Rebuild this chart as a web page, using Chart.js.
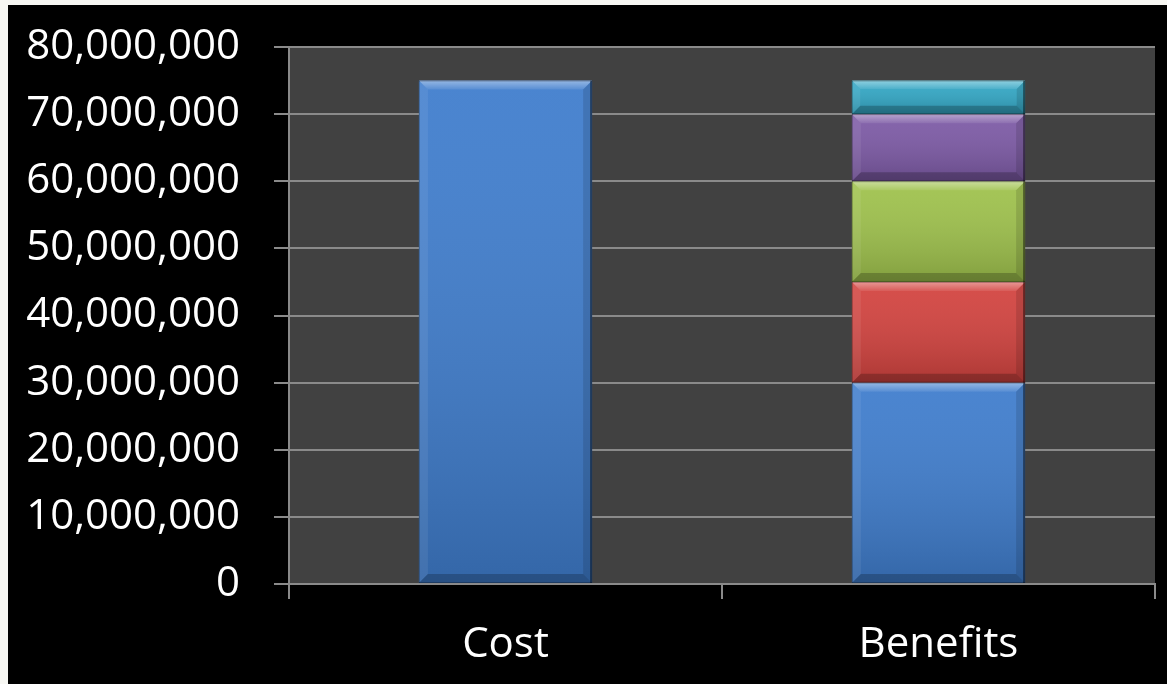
<!DOCTYPE html>
<html>
<head>
<meta charset="utf-8">
<script src="https://cdn.jsdelivr.net/npm/chart.js@4.4.1/dist/chart.umd.min.js"></script>
<style>
  html, body { margin: 0; padding: 0; background: #f7f7f3; }
  #frame { position: absolute; left: 8px; top: 5px; width: 1159px; height: 679px; background: #000; }
  canvas { display: block; }
</style>
</head>
<body>
<div id="frame"><canvas id="c" width="1159" height="679"></canvas></div>
<script>
// Categories along the x axis
const categories = ['Cost', 'Benefits'];

// Stacked series: the first one carries the full cost and the base benefit block
const series1 = [75000000, 30000000];
const series2 = [0, 15000000];
const series3 = [0, 15000000];
const series4 = [0, 10000000];
const series5 = [0, 5000000];

// Value axis range and step
const yMin = 0;
const yMax = 80000000;
const yStep = 10000000;

const seriesColors = ['#3f7dcd', '#d3433f', '#9fc24c', '#7d5aa6', '#33a8c6'];
const allSeries = [series1, series2, series3, series4, series5];

const FONT = '"Open Sans", "Noto Sans", sans-serif';
const GRID = '#8a8a8a';

// Dark plot background inside the chart area
const plotBackground = {
  id: 'plotBackground',
  beforeDraw(chart) {
    const { ctx, chartArea: a } = chart;
    ctx.save();
    ctx.fillStyle = '#414141';
    ctx.fillRect(a.left, a.top, a.right - a.left, a.bottom - a.top);
    ctx.restore();
  }
};

// Bevelled shading over each drawn bar segment
const bevel = {
  id: 'bevel',
  afterDatasetsDraw(chart) {
    const ctx = chart.ctx;
    chart.data.datasets.forEach((ds, i) => {
      const meta = chart.getDatasetMeta(i);
      meta.data.forEach(el => {
        const h = Math.abs(el.base - el.y);
        if (!h) return;
        const l = el.x - el.width / 2, r = el.x + el.width / 2;
        const t = Math.min(el.y, el.base), b = Math.max(el.y, el.base);
        const e = Math.min(9, h / 4);
        ctx.save();
        // overall light-to-dark wash
        const g = ctx.createLinearGradient(0, t, 0, b);
        g.addColorStop(0, 'rgba(255,255,255,0.06)');
        g.addColorStop(1, 'rgba(0,0,0,0.18)');
        ctx.fillStyle = g;
        ctx.fillRect(l, t, r - l, b - t);
        const poly = (pts, fill) => {
          ctx.beginPath();
          ctx.moveTo(pts[0][0], pts[0][1]);
          for (let k = 1; k < pts.length; k++) ctx.lineTo(pts[k][0], pts[k][1]);
          ctx.closePath();
          ctx.fillStyle = fill;
          ctx.fill();
        };
        // top bevel highlight
        const gt = ctx.createLinearGradient(0, t, 0, t + e);
        gt.addColorStop(0, 'rgba(255,255,255,0.42)');
        gt.addColorStop(1, 'rgba(255,255,255,0.08)');
        poly([[l, t], [r, t], [r - e, t + e], [l + e, t + e]], gt);
        // left bevel
        poly([[l, t], [l + e, t + e], [l + e, b - e], [l, b]], 'rgba(255,255,255,0.07)');
        // right bevel
        poly([[r, t], [r - e, t + e], [r - e, b - e], [r, b]], 'rgba(0,0,0,0.12)');
        // bottom bevel
        poly([[l, b], [l + e, b - e], [r - e, b - e], [r, b]], 'rgba(0,0,0,0.22)');
        // thin edges
        ctx.fillStyle = 'rgba(0,0,0,0.45)';
        ctx.fillRect(r - 2, t, 2, b - t);
        ctx.fillStyle = 'rgba(0,0,0,0.25)';
        ctx.fillRect(l, t, r - l, 1);
        ctx.fillRect(l, b - 1, r - l, 1);
        ctx.fillRect(l, t, 1, b - t);
        ctx.restore();
      });
    });
  }
};

new Chart(document.getElementById('c'), {
  type: 'bar',
  data: {
    labels: categories,
    datasets: allSeries.map((d, i) => ({
      label: 'Series ' + (i + 1),
      data: d,
      backgroundColor: seriesColors[i],
      borderWidth: 0,
      barPercentage: 0.4,
      categoryPercentage: 1.0
    }))
  },
  options: {
    responsive: false,
    animation: false,
    events: [],
    layout: { padding: { left: 0, top: 42, right: 12, bottom: 0 } },
    plugins: { legend: { display: false }, tooltip: { enabled: false } },
    scales: {
      x: {
        stacked: true,
        offset: true,
        afterFit(s) { s.height = 100; s.paddingLeft = 0; s.paddingRight = 0; },
        grid: { display: true, drawOnChartArea: false, offset: true, color: GRID, lineWidth: 2, tickLength: 15 },
        border: { display: true, color: GRID, width: 2 },
        ticks: { color: '#ffffff', font: { family: FONT, size: 42 }, padding: 21 }
      },
      y: {
        stacked: true,
        min: yMin,
        max: yMax,
        afterFit(s) { s.width = 281; s.paddingTop = 0; s.paddingBottom = 0; },
        grid: { color: GRID, lineWidth: 2, tickLength: 15 },
        border: { display: true, color: GRID, width: 2 },
        ticks: {
          stepSize: yStep,
          color: '#ffffff',
          font: { family: FONT, size: 42 },
          padding: 34,
          callback: v => v.toLocaleString('en-US')
        }
      }
    }
  },
  plugins: [plotBackground, bevel]
});
</script>
</body>
</html>
